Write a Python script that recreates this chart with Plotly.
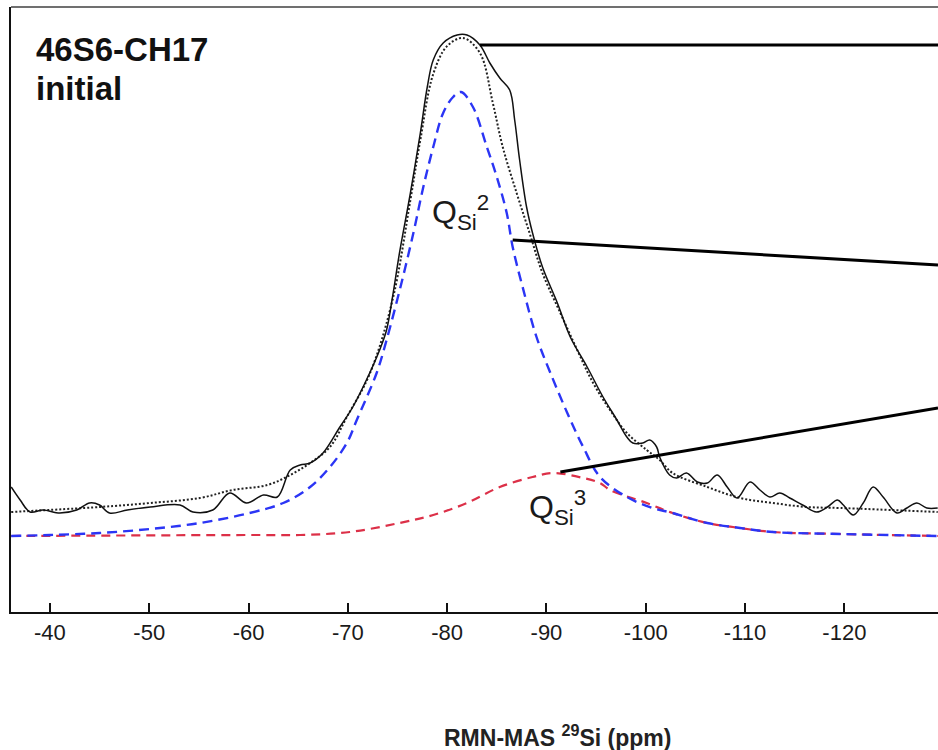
import plotly.graph_objects as go

# ---- data (ppm, arbitrary intensity) ----
exp_ppm = [-36.1, -37.0, -38.0, -39.3, -41.0, -42.7, -44.0, -45.0, -46.0, -47.8, -50.1, -53.1, -54.4, -56.4,
           -58.1, -59.8, -61.5, -62.9, -64.2, -65.2, -66.2, -67.5, -69.2, -70.5, -72.2, -73.2, -73.9, -74.5,
           -75.2, -76.3, -77.3, -78.0, -78.6, -79.6, -81.0, -82.0, -83.3, -84.3, -85.3, -86.3, -86.8, -87.3,
           -88.0, -88.6, -89.6, -91.1, -92.4, -94.1, -95.7, -97.1, -98.1, -98.7, -99.7, -100.4, -101.1, -101.4,
           -102.4, -103.1, -104.1, -105.2, -106.2, -107.2, -108.2, -109.2, -110.5, -111.5, -112.5, -113.5,
           -114.5, -115.8, -117.2, -118.3, -119.3, -119.9, -120.9, -121.9, -122.9, -123.9, -125.3, -126.3,
           -127.3, -128.3, -129.4]
exp_int = [49, 36, 24, 26, 23, 26, 33, 31, 23, 26, 29, 31, 24, 26,
           43, 33, 41, 39, 66, 71, 73, 83, 109, 129, 163, 186, 206, 239,
           283, 343, 403, 449, 476, 493, 501, 501, 491, 473, 458, 446, 416, 376,
           329, 303, 269, 233, 199, 169, 139, 116, 99, 93, 93, 96, 89, 79,
           61, 58, 63, 54, 53, 61, 49, 38, 54, 46, 39, 43,
           38, 31, 24, 29, 36, 31, 21, 33, 49, 39, 23, 28,
           33, 28, 28]

fit_ppm = [-36.1, -45.0, -50.1, -55.1, -58.4, -61.9, -64.2, -66.2, -68.2, -69.9, -72.2, -74.5, -76.3, -77.3,
           -78.6, -80.0, -81.6, -83.3, -84.6, -85.6, -87.0, -88.3, -89.6, -91.4, -93.1, -94.7, -96.4, -98.1,
           -100.1, -101.4, -102.7, -106.2, -109.5, -112.8, -116.2, -119.6, -129.4]
fit_int = [24, 29, 33, 38, 46, 51, 61, 73, 89, 119, 162, 236, 336, 396,
           462, 490, 498, 483, 433, 389, 343, 303, 263, 223, 186, 153, 126, 103,
           86, 76, 63, 49, 38, 33, 29, 28, 24]

q2_ppm = [-36.1, -40.0, -45.0, -50.1, -55.1, -60.1, -63.5, -66.2, -68.2, -69.9, -70.9, -72.9, -73.9, -75.3,
          -76.6, -77.6, -78.6, -79.6, -80.6, -81.4, -82.6, -84.0, -85.0, -86.0, -86.6, -87.6, -89.0, -90.4,
          -92.1, -93.7, -95.4, -98.1, -100.7, -102.7, -106.2, -109.5, -112.8, -119.6, -129.4]
q2_int = [0, 1, 3, 7, 13, 23, 33, 49, 69, 93, 116, 163, 196, 249,
          303, 349, 389, 423, 439, 444, 429, 389, 359, 323, 289, 249, 199, 163,
          123, 89, 59, 39, 28, 23, 13, 8, 4, 2, 0]

q3_ppm = [-36.1, -60.1, -65.2, -70.2, -75.2, -78.6, -82.0, -85.3, -88.6, -90.7, -93.7, -95.4, -96.4, -100.1,
          -102.7, -106.2, -109.5, -112.8, -119.6, -129.4]
q3_int = [0, 1, 1, 4, 13, 21, 33, 49, 59, 63, 58, 53, 46, 33,
          23, 13, 8, 4, 2, 0]

tick_vals = [-40, -50, -60, -70, -80, -90, -100, -110, -120]
tick_text = ["-40", "-50", "-60", "-70", "-80", "-90", "-100", "-110", "-120"]

X_RANGE = [-36.08, -129.43]
Y_RANGE = [-76, 529]

FONT = "Liberation Sans, Arial, sans-serif"


def py_to_y(py):
    # intensity level matching a vertical position in the frame
    return 536 - py


fig = go.Figure()
fig.add_trace(go.Scatter(x=q3_ppm, y=q3_int, mode="lines", line=dict(color="#dc3048", width=2.2, dash="9px,6px"),
                         line_shape="spline", hoverinfo="skip"))
fig.add_trace(go.Scatter(x=q2_ppm, y=q2_int, mode="lines", line=dict(color="#2b35f5", width=2.4, dash="10px,6px"),
                         line_shape="spline", hoverinfo="skip"))
fig.add_trace(go.Scatter(x=fit_ppm, y=fit_int, mode="lines", line=dict(color="#222222", width=2, dash="2px,2px"),
                         line_shape="spline", hoverinfo="skip"))
fig.add_trace(go.Scatter(x=exp_ppm, y=exp_int, mode="lines", line=dict(color="#111111", width=1.5),
                         line_shape="spline", hoverinfo="skip"))

# leader lines (going off to labels outside the visible frame)
leaders = [((-83.3, 491), (X_RANGE[1], 491)),
           ((-86.6, 296), (X_RANGE[1], 271)),
           ((-91.4, 64), (X_RANGE[1], 128))]
for (x0, y0), (x1, y1) in leaders:
    fig.add_shape(type="line", xref="x", yref="y", x0=x0, y0=y0, x1=x1, y1=y1,
                  line=dict(color="black", width=3))

# top frame line
fig.add_shape(type="line", xref="paper", yref="paper", x0=0, x1=1, y0=1, y1=1,
              line=dict(color="#707070", width=2))

fig.add_annotation(x=0.025, xref="paper", y=py_to_y(49), yref="y", text="<b>46S6-CH17</b>", showarrow=False,
                   xanchor="left", yanchor="middle", font=dict(family=FONT, size=33, color="#111111"))
fig.add_annotation(x=0.025, xref="paper", y=py_to_y(88), yref="y", text="<b>initial</b>", showarrow=False,
                   xanchor="left", yanchor="middle", font=dict(family=FONT, size=33, color="#111111"))

fig.add_annotation(x=-78.3, y=py_to_y(212), text="Q<sub>Si</sub><sup>2</sup>", showarrow=False,
                   xanchor="left", yanchor="middle", font=dict(family=FONT, size=32, color="#1a1a1a"))
fig.add_annotation(x=-88.0, y=py_to_y(507), text="Q<sub>Si</sub><sup>3</sup>", showarrow=False,
                   xanchor="left", yanchor="middle", font=dict(family=FONT, size=32, color="#1a1a1a"))

fig.add_annotation(x=553 / 938, xref="paper", y=-0.205, yref="paper",
                   text="<b>RMN-MAS <sup>29</sup>Si (ppm)</b>", showarrow=False,
                   xanchor="center", yanchor="middle", font=dict(family=FONT, size=23, color="#222222"))

fig.update_layout(
    width=938, height=750,
    margin=dict(l=11, r=0, t=7, b=138),
    paper_bgcolor="white", plot_bgcolor="white",
    showlegend=False,
    font=dict(family=FONT, color="#222222"),
    xaxis=dict(range=X_RANGE, tickvals=tick_vals, ticktext=tick_text, showgrid=False, zeroline=False,
               showline=True, linecolor="#111111", linewidth=2, ticks="inside", ticklen=9, tickwidth=2,
               tickcolor="#111111", tickfont=dict(family=FONT, size=22, color="#1a1a1a")),
    yaxis=dict(range=Y_RANGE, showgrid=False, zeroline=False, showticklabels=False, ticks="",
               showline=True, linecolor="#111111", linewidth=2),
)

fig.write_html("out.html")
